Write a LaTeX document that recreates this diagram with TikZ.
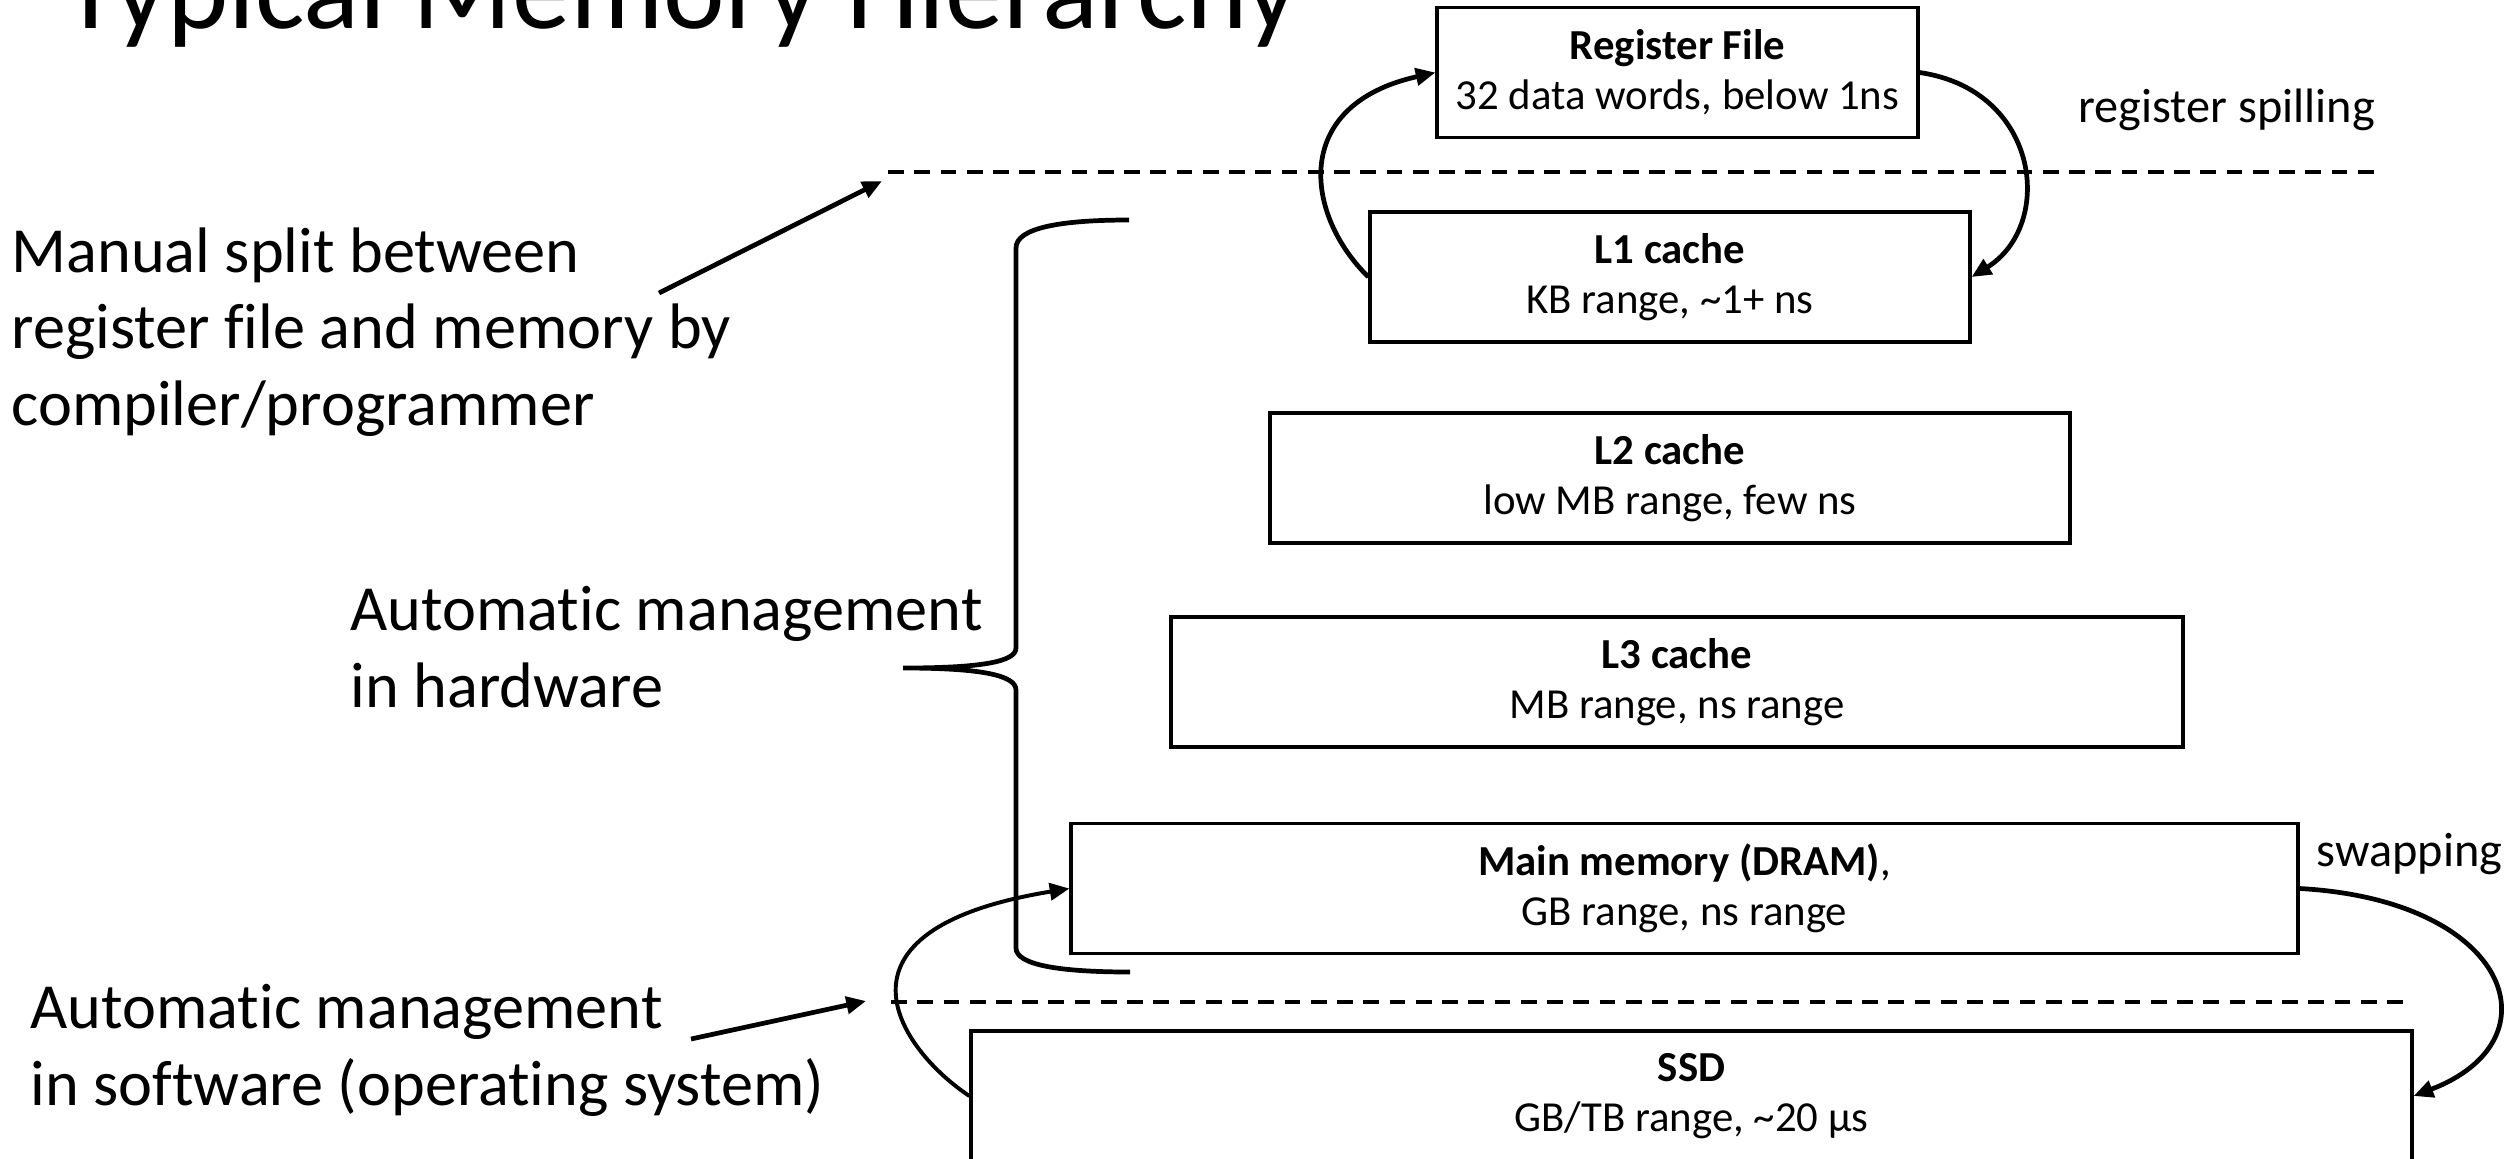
\documentclass[tikz,border=0pt]{standalone}
\usepackage{fontspec}
\setmainfont{Carlito}[Ligatures=NoCommon]
\usetikzlibrary{arrows.meta}
% one drawing unit = one pixel of a 2509 x 1158 canvas
\newdimen\pxu
\pxu=0.381pt
\begin{document}
\begin{tikzpicture}[x=0.381pt, y=-0.381pt,
  memblock/.style={draw, line width=1.2pt, rectangle, inner sep=0pt,
    minimum height=130\pxu, align=center, font=\fontsize{16.3}{19.2}\selectfont},
  link/.style={line width=1.8pt, -{Triangle[length=7.5pt,width=6.5pt]}},
  pointer/.style={line width=1.8pt, -{Triangle[length=7.5pt,width=6.5pt]}},
  divider/.style={line width=1.5pt, dash pattern=on 6pt off 4pt},
  brace/.style={line width=1.8pt},
  note/.style={font=\fontsize{24.5}{29}\selectfont, align=left, anchor=base west, inner sep=0pt},
  side/.style={font=\fontsize{18.4}{22}\selectfont, anchor=base west, inner sep=0pt},
  headline/.style={font=\fontsize{44.5}{52}\selectfont, anchor=base west, inner sep=0pt}]
\useasboundingbox (0,0) rectangle (2509,1158);
\clip (0,0) rectangle (2509,1158);

% title
\node[headline] (title) at (62,28) {Typical Memory Hierarchy};

% levels of the hierarchy
\node[memblock, minimum width=481\pxu]  (rf)   at (1677.5,72.5) {\textbf{Register File}\\32 data words, below 1ns};
\node[memblock, minimum width=600\pxu]  (l1)   at (1670,277)    {\textbf{L1 cache}\\KB range, \textasciitilde1+ ns};
\node[memblock, minimum width=800\pxu]  (l2)   at (1670,478)    {\textbf{L2 cache}\\low MB range, few ns};
\node[memblock, minimum width=1012\pxu] (l3)   at (1677,682)    {\textbf{L3 cache}\\MB range, ns range};
\node[memblock, minimum width=1227\pxu] (dram) at (1684.5,888.5){\textbf{Main memory (DRAM)},\\GB range, ns range};
\node[memblock, minimum width=1441\pxu] (ssd)  at (1691.5,1096) {\textbf{SSD}\\GB/TB range, \textasciitilde20 µs};

% boundaries between managed regions
\coordinate (upL) at (888,172);
\coordinate (upR) at (2378,172);
\coordinate (loL) at (891,1002);
\coordinate (loR) at (2407,1002);
\draw[divider] (upL) -- (upR);
\draw[divider] (loL) -- (loR);

% data movement between levels
\draw[link] (l1.west) .. controls (1305,215) and (1290,105) .. (rf.west);
\draw[link] (rf.east) .. controls (2040,90) and (2055,225) .. (l1.east);
\draw[link, line width=1.5pt] (ssd.west) .. controls (900,1050) and (815,930) .. (dram.west);
\draw[link] (dram.east) .. controls (2510,900) and (2560,1040) .. (ssd.east);

\node[side] (spill) at (2078,122) {register spilling};
\node[side] (swap)  at (2316,866) {swapping};

% annotations on the left (anchored at the baseline of their last line)
\node[note] (manual) at (11,425) {Manual split between\\register file and memory by\\compiler/programmer};
\node[note] (hw) at (350,707) {Automatic management\\in hardware};
\node[note] (sw) at (30,1105) {Automatic management\\in software (operating system)};

\coordinate (msTail) at (659,293);
\coordinate (msTip)  at (882,181);
\draw[pointer] (msTail) -- (msTip);
\coordinate (swTail) at (691,1039);
\coordinate (swTip)  at (866,1001);
\draw[pointer] (swTail) -- (swTip);

% curly brace spanning the hardware-managed caches
\coordinate (braceTop) at (1129,220);
\coordinate (braceTip) at (903,668);
\coordinate (braceBot) at (1130,972);
\draw[brace] (braceTop) .. controls (1060,220) and (1016,228) .. (1016,248)
  -- (1016,648) .. controls (1016,662) and (980,668) .. (braceTip)
  .. controls (980,668) and (1016,675) .. (1016,690)
  -- (1016,948) .. controls (1016,965) and (1060,972) .. (braceBot);
\end{tikzpicture}
\end{document}
